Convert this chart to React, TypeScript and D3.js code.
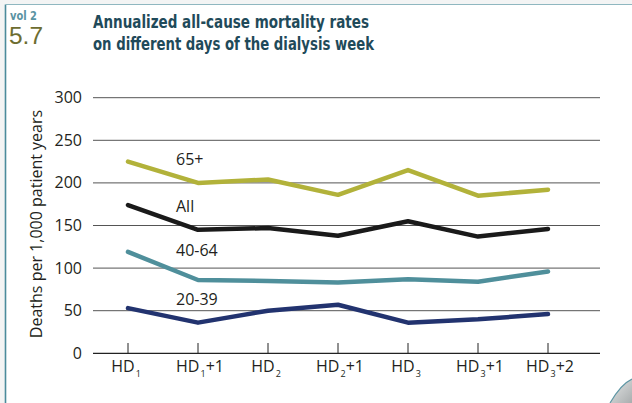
import React from "react";
import * as d3 from "d3";

const categories = ["HD1", "HD1+1", "HD2", "HD2+1", "HD3", "HD3+1", "HD3+2"];
const catMain = ["HD", "HD", "HD", "HD", "HD", "HD", "HD"];
const catSub = ["1", "1", "2", "2", "3", "3", "3"];
const catSuffix = ["", "+1", "", "+1", "", "+1", "+2"];

const series65 = [225, 200, 204, 186, 215, 185, 192];
const seriesAll = [174, 145, 147, 138, 155, 137, 146];
const series4064 = [119, 86, 85, 83, 87, 84, 96];
const series2039 = [53, 36, 50, 57, 36, 40, 46];

const seriesNames = ["65+", "All", "40-64", "20-39"];
const seriesColors = ["#b2b23a", "#1a1a1a", "#4f8f9b", "#22336f"];
const yTicks = [0, 50, 100, 150, 200, 250, 300];

const FONT = "'Open Sans', 'Noto Sans', sans-serif";
const TEXT = "#231f20";

export default function App() {
  const W = 632, H = 403;
  const x = d3.scalePoint<string>().domain(categories).range([128, 548]);
  const y = d3.scaleLinear().domain([0, 300]).range([353.3, 97.7]);
  const allSeries = [series65, seriesAll, series4064, series2039];
  const line = d3
    .line<number>()
    .x((_, i) => x(categories[i]) as number)
    .y((d) => y(d));
  const labelX = 176;
  return (
    <svg width={W} height={H} style={{ position: "absolute", left: 0, top: 0 }} fontFamily={FONT}>
      <defs>
        <linearGradient id="curl" x1="0" y1="0" x2="1" y2="1">
          <stop offset="0" stopColor="#e6e8e8" />
          <stop offset="1" stopColor="#a9adae" />
        </linearGradient>
      </defs>
      <rect x={0} y={0} width={W} height={H} fill="#ffffff" />
      <rect x={0} y={0} width={5} height={H} fill="#f3f4f4" />
      <rect x={0} y={0} width={W} height={4} fill="#f3f4f4" />
      {/* frame */}
      <line x1={5.5} y1={4.5} x2={5.5} y2={H} stroke="#4b8b9b" strokeWidth={1.6} />
      <line x1={5.5} y1={4.5} x2={W} y2={4.5} stroke="#8fb7c0" strokeWidth={1.2} />
      {/* page curl */}
      <path d={`M ${W} 379 Q 621 384 610 403 L ${W} 403 Z`} fill="url(#curl)" />
      <path d={`M ${W} 379 Q 621 384 610 403`} fill="none" stroke="#5e96a4" strokeWidth={1.2} />
      {/* header */}
      <text x={10} y={20} fontSize={13} fill="#5a93a3" fontFamily="'DejaVu Sans Condensed', 'DejaVu Sans', sans-serif" fontWeight="bold" textLength={27} lengthAdjust="spacingAndGlyphs">vol 2</text>
      <text x={9} y={44} fontSize={23} fill="#6d6d31" fontFamily="'Liberation Sans', sans-serif" textLength={34} lengthAdjust="spacingAndGlyphs">5.7</text>
      <text x={93} y={28} fontSize={18} fontWeight="bold" fill="#1f4a5a" fontFamily="'DejaVu Sans Condensed', 'DejaVu Sans', sans-serif" textLength={276} lengthAdjust="spacingAndGlyphs">Annualized all-cause mortality rates</text>
      <text x={93} y={50} fontSize={18} fontWeight="bold" fill="#1f4a5a" fontFamily="'DejaVu Sans Condensed', 'DejaVu Sans', sans-serif" textLength={281} lengthAdjust="spacingAndGlyphs">on different days of the dialysis week</text>
      {/* grid */}
      {yTicks.map((t) => (
        <g key={t}>
          <line x1={93} x2={600} y1={y(t)} y2={y(t)} stroke={t === 0 ? "#222" : "#555"} strokeWidth={t === 0 ? 1.2 : 1} />
          <text x={82} y={y(t) + 5.5} fontSize={16} textAnchor="end" fill={TEXT}>{t}</text>
        </g>
      ))}
      {/* x ticks */}
      {categories.map((c, i) => (
        <g key={c}>
          <line x1={x(c)} x2={x(c)} y1={343} y2={353} stroke="#222" strokeWidth={1} />
          <text x={(x(c) as number) + (catSuffix[i] ? 2 : -2)} y={372} fontSize={16} textAnchor="middle" fill={TEXT}>
            <tspan>{catMain[i]}</tspan>
            <tspan fontSize={9} dy={5} dx={1} fill={TEXT}>{catSub[i]}</tspan>
            <tspan dy={-5} fill={TEXT}>{catSuffix[i]}</tspan>
          </text>
        </g>
      ))}
      {/* y title */}
      <text transform="translate(42,224) rotate(-90)" textAnchor="middle" fontSize={16} fill={TEXT}>Deaths per 1,000 patient years</text>
      {/* lines */}
      {allSeries.map((s, k) => (
        <path key={k} d={line(s) || ""} fill="none" stroke={seriesColors[k]} strokeWidth={4.5} strokeLinecap="round" strokeLinejoin="round" />
      ))}
      {/* series labels */}
      {seriesNames.map((n, k) => (
        <text key={n} x={labelX} y={[165, 212, 256, 305][k]} fontSize={16} fill={TEXT}>{n}</text>
      ))}
    </svg>
  );
}
